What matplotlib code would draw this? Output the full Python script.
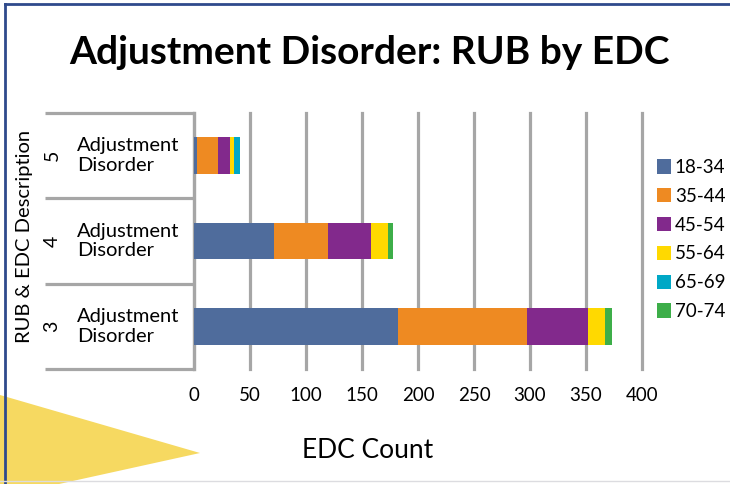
import matplotlib
matplotlib.use("Agg")
import matplotlib.pyplot as plt
from matplotlib.patches import Polygon
from matplotlib.lines import Line2D

plt.rcParams['font.family'] = ['Lato', 'DejaVu Sans']

# Data
rubs = ["3", "4", "5"]
edc_desc = ["Adjustment\nDisorder", "Adjustment\nDisorder", "Adjustment\nDisorder"]
age_groups = ["18-34", "35-44", "45-54", "55-64", "65-69", "70-74"]
counts = {
    "18-34": [182, 71, 3],
    "35-44": [115, 49, 18],
    "45-54": [55, 38, 11],
    "55-64": [15, 15, 4],
    "65-69": [0, 0, 5],
    "70-74": [6, 5, 0],
}
colors = ["#4F6C9C", "#EE8A22", "#82298C", "#FFD900", "#00A8C6", "#3DAE49"]
x_ticks = [0, 50, 100, 150, 200, 250, 300, 350, 400]

W, H = 730, 484
fig = plt.figure(figsize=(W / 100, H / 100), dpi=100)
fig.patch.set_facecolor("white")

ax = fig.add_axes([194 / W, 1 - 369 / H, 448 / W, 256 / H])
grid_c = "#A6A6A6"

ypos = list(range(len(rubs)))
left = [0] * len(rubs)
handles = []
for g, c in zip(age_groups, colors):
    vals = counts[g]
    b = ax.barh(ypos, vals, left=left, height=0.43, color=c, label=g, zorder=3)
    handles.append(b)
    left = [l + v for l, v in zip(left, vals)]

ax.set_xlim(0, 400)
ax.set_ylim(-0.5, len(rubs) - 0.5)
ax.set_xticks(x_ticks)
ax.set_xticklabels([str(t) for t in x_ticks], fontsize=13.5)
ax.tick_params(axis="x", length=0, pad=13)
ax.set_yticks([])
ax.xaxis.grid(True, color=grid_c, linewidth=2.3, zorder=0)
for gl in ax.get_xgridlines():
    gl.set_clip_on(False)
for s in ["top", "right", "bottom"]:
    ax.spines[s].set_visible(False)
ax.spines["left"].set_color(grid_c)
ax.spines["left"].set_linewidth(2.3)

# Multi-level category labels with separators
ytr = ax.get_yaxis_transform()
sep_x0 = (45 - 194) / 448
for yb in [-0.5 + i for i in range(len(rubs) + 1)]:
    ax.plot([sep_x0, 0], [yb, yb], transform=ytr, color=grid_c,
            linewidth=2.3, clip_on=False, zorder=1, solid_capstyle="butt")
for i, (r, d) in enumerate(zip(rubs, edc_desc)):
    ax.text((52 - 194) / 448, i, r, transform=ytr, rotation=90,
            ha="center", va="center", fontsize=14)
    ax.text((77 - 194) / 448, i, d, transform=ytr, ha="left",
            va="center", fontsize=14.5, linespacing=1.2)

ax.text((25 - 194) / 448, 1.05, "RUB & EDC Description", transform=ytr,
        rotation=90, ha="center", va="center", fontsize=14.5)

fig.text(368 / W, 1 - 450 / H, "EDC Count", ha="center", va="center",
         fontsize=19)
fig.text(369 / W, 1 - 52 / H, "Adjustment Disorder: RUB by EDC",
         ha="center", va="center", fontsize=28, fontweight="bold")

fig.legend(handles, age_groups, loc="upper left",
           bbox_to_anchor=(657 / W, 1 - 159 / H), frameon=False,
           fontsize=13.5, handlelength=0.75, handleheight=0.8,
           handletextpad=0.2, labelspacing=0.63, borderpad=0,
           borderaxespad=0)

# Slide frame and decoration
fig.add_artist(Line2D([5 / W, 1], [1 - 4 / H, 1 - 4 / H],
                      transform=fig.transFigure, color="#2F4A8C", linewidth=2))
fig.add_artist(Line2D([5 / W, 5 / W], [1 - 4 / H, 0],
                      transform=fig.transFigure, color="#2F4A8C", linewidth=2))
fig.add_artist(Line2D([0, 1], [1 - 481 / H, 1 - 481 / H],
                      transform=fig.transFigure, color="#DCDCE0", linewidth=1))
tri = Polygon([(0, 1 - 395 / H), (200 / W, 1 - 453 / H), (0, 1 - 497 / H)],
              closed=True, transform=fig.transFigure, facecolor="#F5D550",
              edgecolor="none", alpha=0.9)
fig.add_artist(tri)

fig.savefig("out.png", dpi=100)
